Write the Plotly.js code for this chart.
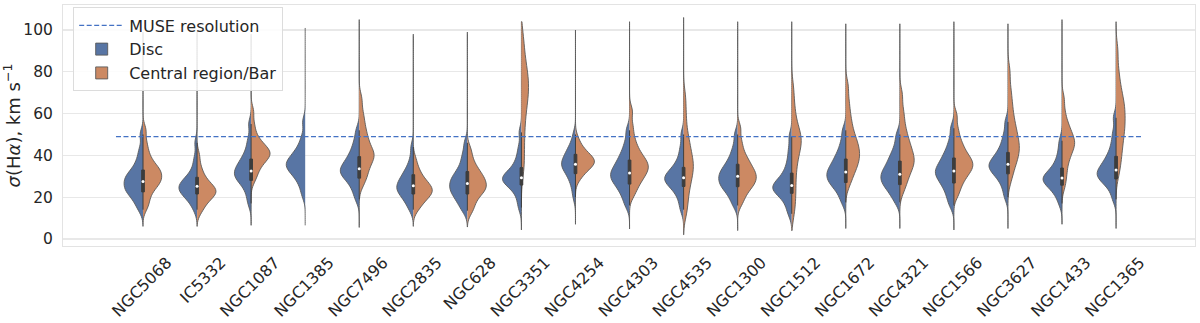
<!DOCTYPE html>
<html><head><meta charset="utf-8">
<script src="https://cdn.plot.ly/plotly-3.0.1.min.js"></script>
<style>html,body{margin:0;padding:0;background:#fff}</style>
</head><body><div id="chart" style="width:1200px;height:323px"></div>
<script>
// Galaxy names (x categories)
const galaxies = ["NGC5068","IC5332","NGC1087","NGC1385","NGC7496","NGC2835","NGC628","NGC3351","NGC4254",
  "NGC4303","NGC4535","NGC1300","NGC1512","NGC1672","NGC4321","NGC1566","NGC3627","NGC1433","NGC1365"];

// sigma(Halpha) samples, km/s, estimated quantiles of the Disc distribution
const discSamples = [
  [14,17,19,21,22,23,24,25,26,27,28,29,30,31,32,34,36,39,43,50],            // NGC5068
  [14,17,19,20,21,22,23,23.5,24,25,25.5,26,27,28,29,30,32,35,39,46],        // IC5332
  [17,21,24,26,27.5,28.5,29.5,30.5,31,32,33,34,35,36,37.5,39,41,44,48,55],  // NGC1087
  [21,25,27.5,29.5,31,32,33,34,35,35.5,36,37,38,39,40,41.5,43,45.5,49,56],  // NGC1385
  [19,22.5,25,27,28.5,29.7,30.7,31.5,32.3,33.1,34,35,36,37.2,38.6,40.2,42,44.5,47.5,52], // NGC7496
  [14,16.5,18.5,20,21,22,23,24,24.5,25,26,27,28,29,30,31.5,33,35,38.5,44],  // NGC2835
  [13.5,16,18,19.5,21,22,23,24,25,26,27,28,29,30,31.5,33,35,38,41,46],      // NGC628
  [15,19,22,24,25.3,26.3,27.1,27.8,28.4,29,29.6,30.3,31,32,33.3,35,37,40,44,51], // NGC3351
  [20,24,27,29,30.5,32,33,34,35,35.5,36,37,38,39,40,41,42.5,44,46,50],      // NGC4254
  [16,19.5,22,24,25.5,27,28,29,30,31,32,33,34,35.5,37,38.5,40.5,43,46.5,52],// NGC4303
  [14,18,21,23,24.5,25.7,26.7,27.5,28.2,28.9,29.6,30.4,31.3,32.3,33.5,35,37,40,44,50], // NGC4535
  [16,19,21.5,23,24.5,25.5,26.5,27.5,28.5,29.5,30.5,31.5,32.5,33.5,35,36.5,38.5,41,44.5,50], // NGC1300
  [12,15.5,18,20,21.3,22.3,23.1,23.8,24.5,25.2,26,26.8,27.8,29,30.5,32.5,35,38.5,43,49], // NGC1512
  [17.5,21,23.5,25,26.5,27.5,28.5,29.5,30.5,31.5,32.5,33.5,34.5,36,37.5,39,41,43.5,47,52], // NGC1672
  [17.5,20.5,22.5,24,25.5,26.5,27.5,28.5,29.5,30.5,31.5,32.5,33.5,35,36.5,38,40,42,45.5,50], // NGC4321
  [16,19.5,22,24.5,26,27.5,29,30,31,32,33,34,35,36.5,38,39.5,41.5,44,47.5,53], // NGC1566
  [20,24,27,29,30.5,31.8,32.8,33.7,34.5,35.3,36.1,37,38,39.2,40.6,42.2,44.3,47,50.5,56], // NGC3627
  [17,20.5,22.5,24,25.2,26.2,27,27.7,28.3,28.9,29.5,30.2,31,32,33.2,34.7,36.5,39,42.5,47], // NGC1433
  [19,23,25.5,27,28.2,29.2,30,30.8,31.6,32.5,33.4,34.5,35.7,37,38.6,40.5,43,46.5,51,58] // NGC1365
];

// Central region / Bar distribution (empty = no data)
const barSamples = [
  [15,18,21,23,25,26,27,28,29,30,31,32,33,34,35,37,39,42,46,52],           // NGC5068
  [13,15,17,18.5,19.5,20.5,21,22,22.5,23,23.5,24,25,26,27,28,30,32,35,40], // IC5332
  [28,31,33,35,36.5,37.5,38.5,39.5,40,41,41.5,42,43,44,45,46.5,48,51,55,61], // NGC1087
  [],                                                                      // NGC1385
  [26,29,31,33,35,36.5,38,39,40,41,42,43.5,45,47,49,51,54,57,61,67],       // NGC7496
  [14,16,17.5,19,20,21,21.5,22,23,23.5,24,25,25.5,26.5,27.5,28.5,30,32,34,38], // NGC2835
  [13,15.5,18,20,21.5,22.5,23.5,24.5,25,26,27,28,29,30,31,32.5,34,36,39,43], // NGC628
  [32,37,42,47,52,56,60,63,65.5,68,70,72,74,76,78,80.5,83,86.5,91,97],     // NGC3351
  [28.5,30.5,32,33,34,35,35.5,36,36.5,37,37.5,38,38.5,39,40,41,42,43,45,48], // NGC4254
  [21,24,26.5,28,29.5,31,32,33,34,35,36,37,38,39.5,41,43,45.5,49,54,61],   // NGC4303
  [12,16,20,23,26,28,30,32,33.5,35,36.5,38,40,42,44.5,47,50,55,61,68],     // NGC4535
  [17,20,22.5,24,25.5,26.5,27.5,28.5,29.5,30.5,31.5,32.5,33.5,35,36.5,38,40,43,47,53], // NGC1300
  [12,17,21,25,29,33,36,39,41.5,43.5,45,46.5,48,49.5,51,53,56,60,65,72],   // NGC1512
  [26,29.5,32,34,35.5,37,38.5,40,41,42.5,44,45.5,47,49,51,54,57,61,66,73], // NGC1672
  [23,26.5,29,31,33,34.5,36,37,38,39.5,41,42.5,44,46,48,50.5,53.5,57.5,62,69], // NGC4321
  [21,24.5,27,29,30.5,32,33,34,35,36,37,38,39,40.5,42,44,46,49,53,59],     // NGC1566
  [28,32,35,37,39,40.5,42,43.5,45,46.5,48,50,52,54,56.5,59.5,63,67,72,80], // NGC3627
  [25,29,32,35,37.5,39.5,41,42.5,44,45,46,47,48,49.5,51,52.5,54.5,57,61,67], // NGC1433
  [31,35.5,39,42,45,47.5,50,52,54,56,58,60,62,64,66,68.5,71.5,75.5,81,90]  // NGC1365
];

// extent of the thin tails (min / max observed values)
const tailLow  = [6,6,6.5,6.5,5.5,6,5.7,4.3,7,4.8,2,4,4,5,5,4.3,5,7,5];
const tailHigh = [99,99,98,101,105,98,99,104,100,104,106,104,104,103,103,104,103,105,104];

const museResolution = 49;
const yTicks = [0,20,40,60,80,100];

const BLUE = '#5875a4', ORANGE = '#cc8963', EDGE = '#5a5a5a', BOXC = '#3d3d3d';

function sd(a){const m=a.reduce((s,v)=>s+v,0)/a.length;return Math.sqrt(a.reduce((s,v)=>s+(v-m)*(v-m),0)/a.length);}
function median(a){const s=[...a].sort((p,q)=>p-q);const n=s.length;return n%2?s[(n-1)/2]:(s[n/2-1]+s[n/2])/2;}

const traces = [{
  type:'scatter', mode:'lines', name:'MUSE resolution',
  x:[-0.5, galaxies.length-0.5], y:[museResolution, museResolution],
  line:{color:'#4472c4', width:1.3, dash:'5px,2.5px'}, hoverinfo:'skip'
}];

let shown = {};
galaxies.forEach((g,i)=>{
  [['Disc', discSamples[i], 'negative', BLUE], ['Central region/Bar', barSamples[i], 'positive', ORANGE]]
  .forEach(([name, vals, side, col])=>{
    if(!vals.length) return;
    traces.push({
      type:'violin', name:name, showlegend: !shown[name],
      x: vals.map(()=>i), y: vals, side: side,
      scalegroup: g, scalemode:'count',
      bandwidth: Math.max(2.8, 0.3*sd(vals)), spanmode:'manual', span:[tailLow[i], tailHigh[i]],
      fillcolor: col, opacity:1, line:{color:EDGE, width:0.9},
      points:false, meanline:{visible:false}, box:{visible:false},
      hoverinfo:'skip'
    });
    shown[name] = true;
  });
});

// inner mini box plots (only where both halves exist)
const boxX = [], boxY = [], medX = [], medY = [];
galaxies.forEach((g,i)=>{
  if(!barSamples[i].length) return;
  discSamples[i].forEach(v=>{boxX.push(i); boxY.push(v);});
  medX.push(i); medY.push(median(discSamples[i]));
});
traces.push({
  type:'box', x:boxX, y:boxY, showlegend:false, width:0.05,
  fillcolor:BOXC, line:{color:BOXC, width:1}, whiskerwidth:0,
  boxpoints:false, hoverinfo:'skip'
});
traces.push({
  type:'scatter', mode:'markers', x:medX, y:medY, showlegend:false,
  marker:{color:'#ffffff', size:3, line:{width:0}}, hoverinfo:'skip'
});

const layout = {
  width:1200, height:323,
  margin:{l:63, r:5, t:5, b:77},
  paper_bgcolor:'#fff', plot_bgcolor:'#fff',
  font:{family:'DejaVu Sans', size:16, color:'#262626'},
  violinmode:'overlay', violingap:0.3, violingroupgap:0,
  boxmode:'overlay',
  showlegend:true,
  xaxis:{
    range:[-1.48, 19.46], tickmode:'array',
    tickvals: galaxies.map((g,i)=>i), ticktext: galaxies,
    tickangle:-45, showgrid:false, zeroline:false,
    showline:true, mirror:true, linecolor:'#e3e3e3', linewidth:1,
    ticks:'', ticklabelshift:24, ticklabelstandoff:0,
    tickfont:{size:16}
  },
  yaxis:{
    range:[-3.4, 112], tickmode:'array', tickvals:yTicks,
    showgrid:true, gridcolor:'#e8e8e8', gridwidth:1.2, zeroline:false,
    showline:true, mirror:true, linecolor:'#e3e3e3', linewidth:1,
    ticks:'', ticklabelstandoff:6, tickfont:{size:15.5},
    title:{text:'<i>σ</i>(H<i>α</i>), km s<sup>−1</sup>', font:{size:18}, standoff:8}
  },
  legend:{
    x:0.009, y:0.99, xanchor:'left', yanchor:'top',
    bgcolor:'rgba(255,255,255,0.85)', bordercolor:'#dcdcdc', borderwidth:1,
    font:{size:16}, tracegroupgap:0, itemwidth:45
  }
};

Plotly.newPlot('chart', traces, layout, {displayModeBar:false, staticPlot:true});
</script>
</body></html>
